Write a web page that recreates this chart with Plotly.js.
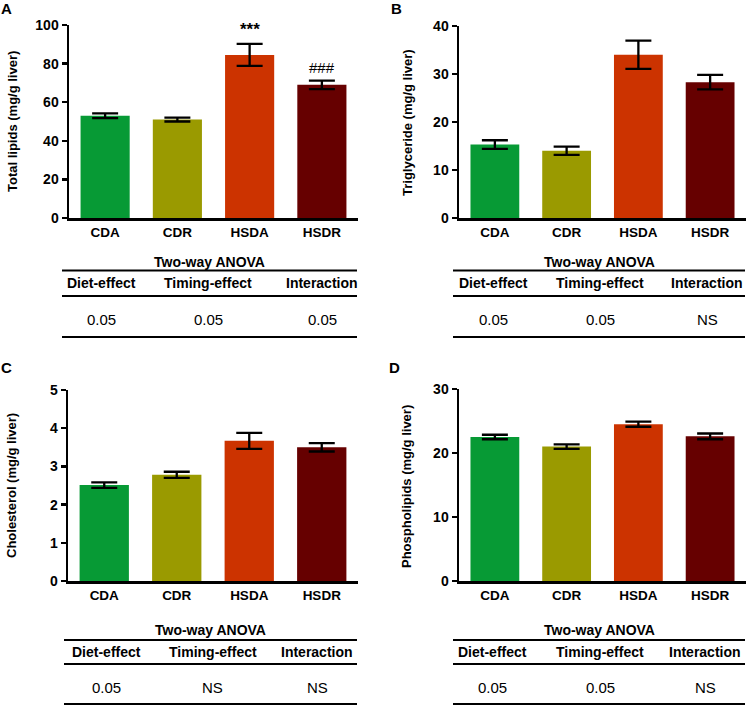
<!DOCTYPE html>
<html>
<head>
<meta charset="utf-8">
<script src="https://cdn.plot.ly/plotly-3.0.1.min.js"></script>
<style>html,body{margin:0;padding:0;background:#fff}#chart{width:748px;height:708px}</style>
</head>
<body>
<div id="chart"></div>
<script>
// ---- data ----
const groups = ['CDA', 'CDR', 'HSDA', 'HSDR'];
const totalLipids = [53, 51, 84.5, 69];
const totalLipidsErr = [1.2, 1.0, 5.7, 2.2];
const triglyceride = [15.3, 14.0, 34.0, 28.3];
const triglycerideErr = [0.9, 0.85, 2.95, 1.5];
const cholesterol = [2.51, 2.78, 3.67, 3.50];
const cholesterolErr = [0.07, 0.08, 0.21, 0.11];
const phospholipids = [22.5, 21.0, 24.5, 22.6];
const phospholipidsErr = [0.35, 0.35, 0.4, 0.45];
const sigMarks = ['', '', '***', '###'];
const anovaTitle = 'Two-way ANOVA';
const anovaHeader = ['Diet-effect', 'Timing-effect', 'Interaction'];
const anovaA = ['0.05', '0.05', '0.05'];
const anovaB = ['0.05', '0.05', 'NS'];
const anovaC = ['0.05', 'NS', 'NS'];
const anovaD = ['0.05', '0.05', 'NS'];

// ---- styles ----
const barColors = ['#079a35', '#9a9a00', '#cc3300', '#660000'];
const W = 748, H = 708;
const px = x => x / W;
const py = y => 1 - y / H;
const FONT = 'Liberation Sans, Arial, sans-serif';

function barTrace(vals, errs, xa, ya) {
  return {
    type: 'bar', x: groups, y: vals, xaxis: xa, yaxis: ya,
    marker: {color: barColors, line: {width: 0}},
    error_y: {type: 'data', array: errs, visible: true, color: '#000', thickness: 2.3, width: 13},
    showlegend: false, hoverinfo: 'skip'
  };
}

const data = [
  barTrace(totalLipids, totalLipidsErr, 'x', 'y'),
  barTrace(triglyceride, triglycerideErr, 'x2', 'y2'),
  barTrace(cholesterol, cholesterolErr, 'x3', 'y3'),
  barTrace(phospholipids, phospholipidsErr, 'x4', 'y4')
];

function xAxis(l, r, anchor) {
  return {
    domain: [px(l), px(r)], anchor: anchor, type: 'category', range: [-0.5, 3.5],
    showline: true, linewidth: 2.5, linecolor: '#000', ticks: '', showgrid: false,
    zeroline: false, fixedrange: true,
    tickfont: {family: FONT, size: 13.5, color: '#000', weight: 'bold'}
  };
}
function yAxis(top, bottom, anchor, maxv, dt) {
  return {
    domain: [py(bottom), py(top)], anchor: anchor, range: [0, maxv], dtick: dt, tick0: 0,
    showline: true, linewidth: 2.5, linecolor: '#000', ticks: 'outside', ticklen: 5,
    tickwidth: 2.5, tickcolor: '#000', showgrid: false, zeroline: false, fixedrange: true,
    tickfont: {family: FONT, size: 14, color: '#000', weight: 'bold'}
  };
}

const annotations = [];
const shapes = [];

function ann(text, x, y, size, bold, extra) {
  annotations.push(Object.assign({
    text: text, x: px(x), y: py(y), xref: 'paper', yref: 'paper', showarrow: false,
    xanchor: 'center', yanchor: 'middle',
    font: {family: FONT, size: size, color: '#000', weight: bold ? 'bold' : 'normal'}
  }, extra || {}));
}

// panel letters
ann('A', 7, 8, 15, true);
ann('B', 396, 8, 15, true);
ann('C', 7, 367, 15, true);
ann('D', 394, 367, 15, true);

// y titles
ann('Total lipids (mg/g liver)', 12, 122, 13, true, {textangle: -90});
ann('Triglyceride (mg/g liver)', 407, 122, 13, true, {textangle: -90});
ann('Cholesterol (mg/g liver)', 12, 486, 13, true, {textangle: -90});
ann('Phospholipids (mg/g liver)', 407, 486, 13, true, {textangle: -90});

// significance marks (panel A)
sigMarks.forEach((m, i) => {
  if (!m) return;
  annotations.push({
    text: m, x: groups[i], xref: 'x', yref: 'y',
    y: totalLipids[i] + totalLipidsErr[i], yanchor: 'bottom', yshift: 3,
    showarrow: false,
    font: {family: FONT, size: m === '***' ? 17 : 15, color: '#000', weight: m === '***' ? 'bold' : 'normal'}
  });
});

function table(vals, left, right, cols, yTitle, yL1, yHead, yL2, yVal, yL3) {
  ann(anovaTitle, (left + right) / 2, yTitle, 14, true);
  [yL1, yL2, yL3].forEach(yy => shapes.push({
    type: 'line', xref: 'paper', yref: 'paper', x0: px(left), x1: px(right), y0: py(yy), y1: py(yy),
    line: {color: '#000', width: 2}
  }));
  anovaHeader.forEach((h, i) => ann(h, cols[i], yHead, 14, true));
  vals.forEach((v, i) => ann(v, cols[i], yVal, 15, false));
}

table(anovaA, 62, 357, [101, 208, 322], 262, 270.5, 283, 296, 319, 337);
table(anovaB, 453, 745, [493, 600, 707], 262, 270.5, 283, 296, 319, 337);
table(anovaC, 64, 357, [106, 213, 317], 630, 640, 652, 664, 687, 704);
table(anovaD, 453, 745, [492, 600, 705], 630, 640, 652, 664, 687, 704);

const layout = {
  width: W, height: H, margin: {l: 0, r: 0, t: 0, b: 0},
  paper_bgcolor: '#fff', plot_bgcolor: '#fff', bargap: 0.32, showlegend: false,
  font: {family: FONT, color: '#000'},
  xaxis: xAxis(69, 358, 'y'),
  yaxis: yAxis(25, 218, 'x', 100, 20),
  xaxis2: xAxis(459, 746, 'y2'),
  yaxis2: yAxis(26, 218, 'x2', 40, 10),
  xaxis3: xAxis(68, 358, 'y3'),
  yaxis3: yAxis(390, 581, 'x3', 5, 1),
  xaxis4: xAxis(459, 746, 'y4'),
  yaxis4: yAxis(389, 581, 'x4', 30, 10),
  annotations: annotations, shapes: shapes
};

Plotly.newPlot('chart', data, layout, {staticPlot: true, displayModeBar: false});
</script>
</body>
</html>
